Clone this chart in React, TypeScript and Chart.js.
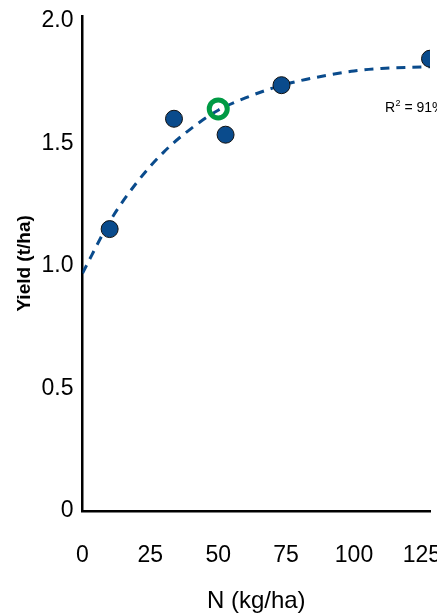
import { useEffect, useRef } from 'react';
import { Chart, registerables } from 'chart.js';

Chart.register(...registerables);

// Observed yield points (N kg/ha vs t/ha)
const obsX = [10, 33.7, 52.7, 73.3, 128];
const obsY = [1.15, 1.6, 1.535, 1.737, 1.845];

// Highlighted (open green) point
const highlightX = [50];
const highlightY = [1.64];

// Fitted response curve
const curveX = [0, 10, 20, 30, 40, 50, 60, 70, 80, 90, 100, 110, 120, 128];
const curveY = [0.97, 1.18, 1.34, 1.465, 1.56, 1.635, 1.685, 1.725, 1.755, 1.777, 1.795, 1.805, 1.81, 1.812];

const xTicks = [0, 25, 50, 75, 100, 125];
const yTicks = [0, 0.5, 1, 1.5, 2];

const xTitle = 'N (kg/ha)';
const yTitle = 'Yield (t/ha)';
const r2Label = ' = 91%';

const BLUE = '#0a4b8c';
const GREEN = '#009a44';
const FONT = '"Liberation Sans", Arial, Helvetica, sans-serif';

const toPts = (xs: number[], ys: number[]) => xs.map((x, i) => ({ x, y: ys[i] }));

export default function App() {
  const ref = useRef<HTMLCanvasElement | null>(null);

  useEffect(() => {
    if (!ref.current) return;
    const r2Plugin = {
      id: 'r2',
      afterDatasetsDraw(chart: any) {
        const { ctx, scales } = chart;
        const x = scales.x.getPixelForValue(111.4);
        const y = scales.y.getPixelForValue(1.627);
        ctx.save();
        ctx.fillStyle = '#000';
        ctx.textBaseline = 'alphabetic';
        ctx.textAlign = 'left';
        ctx.font = `14px ${FONT}`;
        ctx.fillText('R', x, y);
        const w = ctx.measureText('R').width;
        ctx.font = `9px ${FONT}`;
        ctx.fillText('2', x + w + 0.5, y - 6);
        const w2 = ctx.measureText('2').width;
        ctx.font = `14px ${FONT}`;
        ctx.fillText(r2Label, x + w + w2 + 0.5, y);
        ctx.restore();
      },
    };

    const chart = new Chart(ref.current, {
      type: 'scatter',
      data: {
        datasets: [
          {
            label: 'observed',
            data: toPts(obsX, obsY),
            backgroundColor: BLUE,
            borderColor: '#111',
            borderWidth: 1,
            pointRadius: 8.5,
            order: 1,
          },
          {
            label: 'highlight',
            data: toPts(highlightX, highlightY),
            backgroundColor: 'rgba(255,255,255,0)',
            borderColor: GREEN,
            borderWidth: 5,
            pointRadius: 9,
            order: 0,
          },
          {
            label: 'fit',
            type: 'line',
            data: toPts(curveX, curveY),
            borderColor: BLUE,
            borderWidth: 3,
            borderDash: [9, 7],
            pointRadius: 0,
            fill: false,
            cubicInterpolationMode: 'monotone',
            order: 2,
          } as any,
        ],
      },
      options: {
        responsive: false,
        animation: false,
        devicePixelRatio: 1,
        layout: { padding: { left: 0, right: 50, top: 15, bottom: 0 } },
        plugins: {
          legend: { display: false },
          tooltip: { enabled: false },
        },
        scales: {
          x: {
            type: 'linear',
            min: 0,
            max: 128,
            afterBuildTicks: (s: any) => {
              s.ticks = xTicks.map((v) => ({ value: v }));
            },
            afterFit: (s: any) => {
              s.height = 102;
            },
            grid: { display: false, drawTicks: false },
            border: { display: true, color: '#000', width: 2.5 },
            ticks: {
              color: '#000',
              font: { family: FONT, size: 23 },
              padding: 31,
              maxRotation: 0,
              autoSkip: false,
              callback: (v: any) => String(v),
            },
            title: {
              display: true,
              text: xTitle,
              color: '#000',
              font: { family: FONT, size: 24, lineHeight: 1 },
              padding: { top: 0, bottom: 0 },
            },
          },
          y: {
            type: 'linear',
            min: 0,
            max: 2.02,
            afterBuildTicks: (s: any) => {
              s.ticks = yTicks.map((v) => ({ value: v }));
            },
            afterFit: (s: any) => {
              s.width = 82.5;
            },
            grid: { display: false, drawTicks: false },
            border: { display: true, color: '#000', width: 2.5 },
            ticks: {
              color: '#000',
              font: { family: FONT, size: 23 },
              padding: 9,
              autoSkip: false,
              callback: (v: any) => (v === 0 ? '0' : Number(v).toFixed(1)),
            },
            title: {
              display: true,
              text: yTitle,
              color: '#000',
              font: { family: FONT, size: 19, weight: 'bold', lineHeight: 1 },
              padding: { top: 15, bottom: 0 },
            },
          },
        },
      },
      plugins: [r2Plugin],
    });
    return () => chart.destroy();
  }, []);

  return (
    <div
      style={{
        position: 'fixed',
        left: 0,
        top: 0,
        width: 437,
        height: 613,
        overflow: 'hidden',
        background: '#fff',
      }}
    >
      <canvas
        ref={ref}
        width={480}
        height={620}
        style={{ display: 'block', marginTop: -7 }}
      />
    </div>
  );
}
